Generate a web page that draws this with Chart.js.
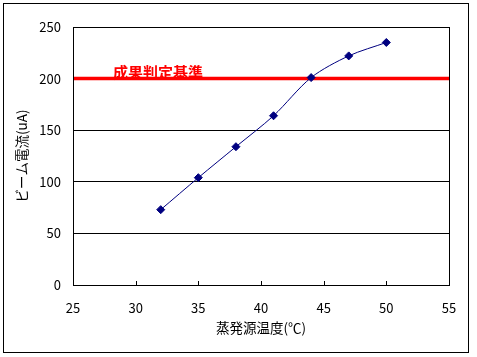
<!DOCTYPE html>
<html>
<head>
<meta charset="utf-8">
<script src="https://cdn.jsdelivr.net/npm/chart.js@4"></script>
<style>
  body { margin: 0; background: #fff; }
  #wrap { width: 477px; height: 357px; }
</style>
</head>
<body>
<div id="wrap"><canvas id="graph"></canvas></div>
<script>
// données
var temperatures = [32, 35, 38, 41, 44, 47, 50];
var courants = [73, 104, 134, 164, 201, 222, 235];
var xGraduations = [25, 30, 35, 40, 45, 50, 55];
var yGraduations = [0, 50, 100, 150, 200, 250];
var seuil = 200;
var seuilLabel = '成果判定基準';

Chart.defaults.font.family = "'Noto Sans CJK JP', 'DejaVu Sans', sans-serif";
Chart.defaults.color = '#000';

// cadre extérieur, cadre du tracé, petites graduations, texte du seuil
var decor = {
  id: 'decor',
  beforeDraw: function (chart) {
    var c = chart.ctx;
    c.save();
    c.fillStyle = '#fff';
    c.fillRect(0, 0, chart.width, chart.height);
    c.restore();
  },
  afterDraw: function (chart) {
    var c = chart.ctx, a = chart.chartArea;
    var x = chart.scales.x, y = chart.scales.y;
    c.save();
    c.strokeStyle = '#000';
    c.lineWidth = 1;
    c.strokeRect(3.5, 3.5, 465, 349);
    c.strokeRect(Math.round(a.left) + 0.5, Math.round(a.top) + 0.5, Math.round(a.right - a.left), Math.round(a.bottom - a.top));
    c.beginPath();
    xGraduations.forEach(function (v) {
      var px = Math.round(x.getPixelForValue(v)) + 0.5;
      c.moveTo(px, a.bottom);
      c.lineTo(px, a.bottom - 4);
    });
    c.stroke();
    c.fillStyle = '#ff0000';
    c.font = "bold 15px 'Noto Sans CJK JP', sans-serif";
    c.textBaseline = 'middle';
    c.fillText(seuilLabel, x.getPixelForValue(28.2), y.getPixelForValue(206.5));
    c.restore();
  }
};

var ctx = document.getElementById('graph').getContext('2d');
var graph = new Chart(ctx, {
  type: 'scatter',
  data: {
    datasets: [{
      label: 'ビーム電流',
      data: temperatures.map(function (t, i) { return { x: t, y: courants[i] }; }),
      showLine: true,
      borderColor: '#000080',
      borderWidth: 1,
      tension: 0.3,
      pointStyle: 'rectRot',
      pointRadius: 4,
      pointBackgroundColor: '#000080',
      pointBorderColor: '#000080',
      order: 0
    }, {
      label: seuilLabel,
      data: [{ x: xGraduations[0], y: seuil }, { x: xGraduations[xGraduations.length - 1], y: seuil }],
      showLine: true,
      borderColor: '#ff0000',
      borderWidth: 3.5,
      pointRadius: 0,
      order: 1
    }]
  },
  options: {
    responsive: true,
    maintainAspectRatio: false,
    animation: false,
    layout: { padding: { top: 27, right: 28, left: 0, bottom: 0 } },
    plugins: {
      legend: { display: false },
      tooltip: { enabled: false }
    },
    scales: {
      x: {
        type: 'linear',
        min: 25,
        max: 55,
        afterFit: function (s) { s.height = 72; },
        afterBuildTicks: function (s) { s.ticks = xGraduations.map(function (v) { return { value: v }; }); },
        grid: { display: false, drawTicks: false },
        border: { display: true, color: '#000' },
        ticks: { padding: 15, font: { size: 13 }, color: '#000' },
        title: { display: true, text: '蒸発源温度(℃)', font: { size: 13.5 }, color: '#000', padding: { top: 0, bottom: 21 } }
      },
      y: {
        min: 0,
        max: 250,
        afterFit: function (s) { s.width = 73; },
        afterBuildTicks: function (s) { s.ticks = yGraduations.map(function (v) { return { value: v }; }); },
        grid: { color: '#000', lineWidth: 1, drawTicks: false },
        border: { display: true, color: '#000' },
        ticks: { padding: 12, font: { size: 13 }, color: '#000' },
        title: { display: true, text: 'ビーム電流(uA)', font: { size: 13.5 }, color: '#000', padding: { top: 14, bottom: 0 } }
      }
    }
  },
  plugins: [decor]
});
</script>
</body>
</html>
